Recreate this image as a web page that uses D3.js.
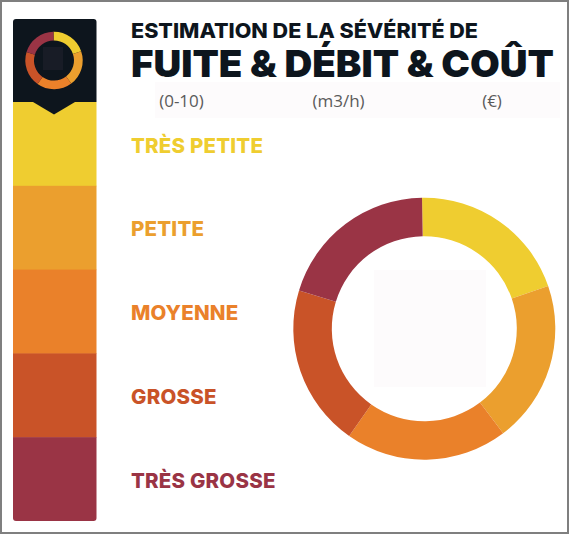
<!DOCTYPE html>
<html>
<head>
<meta charset="utf-8">
<script src="https://cdnjs.cloudflare.com/ajax/libs/d3/7.8.5/d3.min.js"></script>
<style>
    html, body { margin: 0; padding: 0; background: white; }
    svg { display: block; }
    text { font-family: Inter, sans-serif; }
</style>
</head>
<body>
<svg width="569" height="534"></svg>
<script>
var categories = ["TRÈS PETITE", "PETITE", "MOYENNE", "GROSSE", "TRÈS GROSSE"];
var shares = [20, 20, 20, 20, 20];
var colours = ["#efcd30", "#eb9f2e", "#ea812a", "#c95328", "#9a3445"];
var units = ["(0-10)", "(m3/h)", "(€)"];
var unitX = [181.5, 338.5, 492];

var svg = d3.select("svg");
var dark = "#0d151d";

// outer frame of the screenshot, runs off the right and bottom edges
svg.append("rect")
    .attr("width", 569).attr("height", 534)
    .attr("fill", "#7f7f7f");
svg.append("rect")
    .attr("x", 2).attr("y", 2)
    .attr("width", 565).attr("height", 530)
    .attr("fill", "white");

// faint patches left in the image
svg.append("rect").attr("x", 155).attr("y", 82).attr("width", 405).attr("height", 36).attr("fill", "#fdfbfc");
svg.append("rect").attr("x", 374).attr("y", 270).attr("width", 112).attr("height", 117).attr("fill", "#fdfbfc");

// left rail
var railY = d3.scaleBand().domain(categories).range([102, 521]);

svg.append("clipPath").attr("id", "rail")
    .append("rect")
    .attr("x", 13).attr("y", 19)
    .attr("width", 83.5).attr("height", 502)
    .attr("rx", 3);

var rail = svg.append("g").attr("clip-path", "url(#rail)");

rail.selectAll("rect.step")
    .data(categories)
    .enter()
    .append("rect")
    .attr("class", "step")
    .attr("x", 13)
    .attr("y", d => railY(d))
    .attr("width", 84)
    .attr("height", railY.bandwidth() + 0.5)
    .attr("fill", (d, i) => colours[i]);

rail.append("rect")
    .attr("x", 13).attr("y", 19)
    .attr("width", 84).attr("height", 83)
    .attr("fill", dark);

svg.append("path")
    .attr("d", "M33,102 L54,114.5 L75,102 Z")
    .attr("fill", dark);

// donuts
var pie = d3.pie().sort(null)
    .startAngle(-1 * Math.PI / 180)
    .endAngle(359 * Math.PI / 180);
var arcs = pie(shares);

function donut(cx, cy, inner, outer) {
    var arc = d3.arc().innerRadius(inner).outerRadius(outer);
    return svg.append("g")
        .attr("transform", "translate(" + cx + "," + cy + ")")
        .selectAll("path")
        .data(arcs)
        .enter()
        .append("path")
        .attr("d", arc)
        .attr("fill", (d, i) => colours[i]);
}

donut(54, 60.5, 20, 28.7);
svg.append("rect").attr("x", 43).attr("y", 47).attr("width", 20).attr("height", 23).attr("fill", "#181c26");
donut(424.3, 328.7, 92.5, 131);

// titles
svg.append("text")
    .attr("x", 131).attr("y", 38)
    .attr("textLength", 347)
    .attr("lengthAdjust", "spacingAndGlyphs")
    .attr("font-size", 20.5)
    .attr("font-weight", 800)
    .attr("fill", dark)
    .text("ESTIMATION DE LA SÉVÉRITÉ DE");

svg.append("text")
    .attr("x", 131).attr("y", 76.5)
    .attr("textLength", 423)
    .attr("lengthAdjust", "spacingAndGlyphs")
    .attr("font-size", 37.5)
    .attr("font-weight", 900)
    .attr("fill", dark)
    .text("FUITE & DÉBIT & COÛT");

svg.selectAll("text.unit")
    .data(units)
    .enter()
    .append("text")
    .attr("class", "unit")
    .attr("x", (d, i) => unitX[i])
    .attr("y", 107)
    .attr("text-anchor", "middle")
    .attr("font-size", 17)
    .attr("fill", "#5a5a5a")
    .style("font-family", "'Open Sans', sans-serif")
    .text(d => d);

// labels
svg.selectAll("text.label")
    .data(categories)
    .enter()
    .append("text")
    .attr("class", "label")
    .attr("x", 131)
    .attr("y", d => railY(d) + railY.bandwidth() / 2 + 1.5)
    .attr("dy", "0.35em")
    .attr("font-size", 20.5)
    .attr("font-weight", 800)
    .attr("letter-spacing", 0.2)
    .attr("fill", (d, i) => colours[i])
    .text(d => d);
</script>
</body>
</html>
